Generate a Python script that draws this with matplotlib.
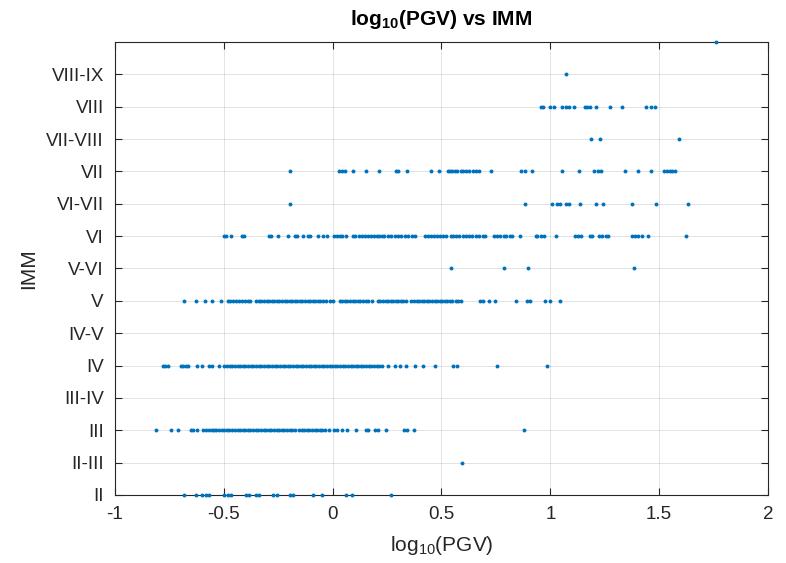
import numpy as np
import matplotlib
matplotlib.use('Agg')
import matplotlib.pyplot as plt

plt.rcParams['font.family'] = ['Liberation Sans', 'DejaVu Sans']
plt.rcParams['mathtext.fontset'] = 'custom'
plt.rcParams['mathtext.rm'] = 'Liberation Sans'
plt.rcParams['mathtext.bf'] = 'Liberation Sans:bold'

# intensity labels (II = 2 ... VIII-IX = 8.5)
tick_vals = [2, 2.5, 3, 3.5, 4, 4.5, 5, 5.5, 6, 6.5, 7, 7.5, 8, 8.5]
tick_labels = ['II', 'II-III', 'III', 'III-IV', 'IV', 'IV-V', 'V', 'V-VI',
               'VI', 'VI-VII', 'VII', 'VII-VIII', 'VIII', 'VIII-IX']

# log10(PGV) values, one list per IMM level
pgv_II = [-0.683, -0.630, -0.601, -0.581, -0.566, -0.497, -0.483, -0.468,
          -0.399, -0.385, -0.350, -0.339, -0.272, -0.256, -0.194, -0.184,
          -0.090, -0.047, 0.061, 0.090, 0.266]
pgv_II_III = [0.593]
pgv_III = [-0.810, -0.742, -0.712, -0.650, -0.640, -0.624, -0.595, -0.581,
           -0.569, -0.556, -0.546, -0.534, -0.521, -0.509, -0.497, -0.486,
           -0.474, -0.461, -0.449, -0.437, -0.425, -0.414, -0.402, -0.390,
           -0.378, -0.366, -0.354, -0.341, -0.329, -0.317, -0.305, -0.293,
           -0.281, -0.270, -0.258, -0.246, -0.234, -0.222, -0.210, -0.198,
           -0.186, -0.174, -0.155, -0.143, -0.131, -0.119, -0.107, -0.095,
           -0.083, -0.071, -0.059, -0.047, -0.035, -0.018, 0.008, 0.022,
           0.041, 0.067, 0.106, 0.153, 0.164, 0.194, 0.209, 0.243, 0.329,
           0.341, 0.374, 0.879]
pgv_III_IV = []
pgv_IV = [-0.781, -0.769, -0.755, -0.699, -0.687, -0.675, -0.663, -0.624,
          -0.601, -0.566, -0.554, -0.523, -0.497, -0.486, -0.473, -0.462,
          -0.449, -0.437, -0.426, -0.413, -0.401, -0.390, -0.377, -0.365,
          -0.353, -0.338, -0.327, -0.314, -0.302, -0.291, -0.278, -0.266,
          -0.255, -0.242, -0.230, -0.219, -0.206, -0.194, -0.183, -0.170,
          -0.158, -0.147, -0.134, -0.122, -0.111, -0.098, -0.086, -0.075,
          -0.062, -0.050, -0.039, -0.026, -0.014, -0.003, 0.010, 0.022,
          0.033, 0.046, 0.058, 0.069, 0.082, 0.094, 0.105, 0.118, 0.130,
          0.141, 0.154, 0.166, 0.177, 0.190, 0.202, 0.213, 0.227, 0.256,
          0.286, 0.311, 0.339, 0.380, 0.413, 0.468, 0.554, 0.570, 0.755,
          0.984]
pgv_IV_V = []
pgv_V = [-0.683, -0.630, -0.585, -0.554, -0.511, -0.483, -0.472, -0.458,
         -0.444, -0.431, -0.417, -0.403, -0.389, -0.378, -0.350, -0.339,
         -0.327, -0.315, -0.303, -0.292, -0.280, -0.268, -0.256, -0.245,
         -0.233, -0.221, -0.209, -0.198, -0.186, -0.174, -0.162, -0.151,
         -0.139, -0.127, -0.115, -0.104, -0.092, -0.080, -0.068, -0.057,
         -0.045, -0.031, -0.010, 0.002, 0.033, 0.045, 0.057, 0.068, 0.080,
         0.092, 0.104, 0.115, 0.127, 0.139, 0.151, 0.162, 0.182, 0.207,
         0.219, 0.231, 0.243, 0.254, 0.266, 0.278, 0.290, 0.301, 0.313,
         0.325, 0.337, 0.362, 0.374, 0.386, 0.397, 0.409, 0.421, 0.432,
         0.444, 0.456, 0.468, 0.479, 0.491, 0.503, 0.515, 0.526, 0.538,
         0.550, 0.566, 0.577, 0.589, 0.679, 0.689, 0.720, 0.746, 0.843,
         0.894, 0.906, 0.975, 1.000, 1.043]
pgv_V_VI = [0.544, 0.785, 0.898, 1.384]
pgv_VI = [-0.501, -0.491, -0.468, -0.417, -0.409, -0.292, -0.282, -0.249,
          -0.205, -0.174, -0.162, -0.135, -0.115, -0.106, -0.067, -0.043,
          -0.027, 0.004, 0.018, 0.035, 0.045, 0.061, 0.094, 0.104, 0.119,
          0.135, 0.149, 0.164, 0.176, 0.188, 0.202, 0.213, 0.225, 0.237,
          0.252, 0.266, 0.288, 0.299, 0.315, 0.331, 0.348, 0.366, 0.380,
          0.423, 0.436, 0.452, 0.466, 0.481, 0.495, 0.507, 0.521, 0.544,
          0.554, 0.566, 0.581, 0.599, 0.613, 0.628, 0.642, 0.658, 0.673,
          0.691, 0.699, 0.742, 0.753, 0.769, 0.785, 0.796, 0.814, 0.824,
          0.859, 0.932, 0.941, 0.957, 0.971, 1.025, 1.114, 1.127, 1.139,
          1.180, 1.192, 1.225, 1.239, 1.256, 1.266, 1.376, 1.391, 1.405,
          1.421, 1.448, 1.624]
pgv_VI_VII = [-0.198, 0.883, 1.008, 1.031, 1.043, 1.070, 1.084, 1.137,
              1.209, 1.241, 1.376, 1.487, 1.634]
pgv_VII = [-0.198, 0.031, 0.043, 0.057, 0.094, 0.151, 0.211, 0.290, 0.301,
           0.341, 0.452, 0.487, 0.530, 0.540, 0.550, 0.562, 0.573, 0.589,
           0.601, 0.613, 0.628, 0.644, 0.659, 0.671, 0.726, 0.863, 0.883,
           0.916, 1.053, 1.131, 1.202, 1.217, 1.235, 1.344, 1.401, 1.464,
           1.523, 1.534, 1.548, 1.560, 1.573]
pgv_VII_VIII = [1.188, 1.227, 1.591]
pgv_VIII = [0.957, 0.967, 1.000, 1.016, 1.055, 1.070, 1.084, 1.110, 1.157,
            1.168, 1.182, 1.211, 1.276, 1.327, 1.438, 1.464, 1.482]
pgv_VIII_IX = [1.072]
pgv_IX = [1.760]

rows = [pgv_II, pgv_II_III, pgv_III, pgv_III_IV, pgv_IV, pgv_IV_V, pgv_V,
        pgv_V_VI, pgv_VI, pgv_VI_VII, pgv_VII, pgv_VII_VIII, pgv_VIII,
        pgv_VIII_IX, pgv_IX]
levels = tick_vals + [9]

x = []
y = []
for lev, vals in zip(levels, rows):
    x += vals
    y += [lev] * len(vals)

fig = plt.figure(figsize=(7.86, 5.63), dpi=100)
ax = fig.add_axes([0.1463, 0.1208, 0.8308, 0.8046])

ax.scatter(x, y, s=8, color='#0072BD', linewidths=0, clip_on=False, zorder=3)

ax.set_xlim(-1, 2)
ax.set_ylim(2, 9)
ax.set_xticks([-1, -0.5, 0, 0.5, 1, 1.5, 2])
ax.set_xticklabels(['-1', '-0.5', '0', '0.5', '1', '1.5', '2'])
ax.set_yticks(tick_vals)
ax.set_yticklabels(tick_labels)

ax.grid(True, color='#262626', alpha=0.15, linewidth=0.6)
ax.set_axisbelow(True)
ax.tick_params(direction='in', top=True, right=True, length=5, width=0.8,
               colors='#262626', labelsize=13.5)
ax.tick_params(axis='x', pad=8)
ax.tick_params(axis='y', pad=8)
for sp in ax.spines.values():
    sp.set_color('#262626')
    sp.set_linewidth(0.8)

ax.set_title(r'log$_{\mathbf{10}}$(PGV) vs IMM', fontsize=15, fontweight='bold',
             color='black', pad=12)
ax.set_xlabel(r'log$_{10}$(PGV)', fontsize=15, color='#262626', labelpad=8)
ax.set_ylabel('IMM', fontsize=15, color='#262626', labelpad=6)

plt.savefig('out.png', dpi=100)
